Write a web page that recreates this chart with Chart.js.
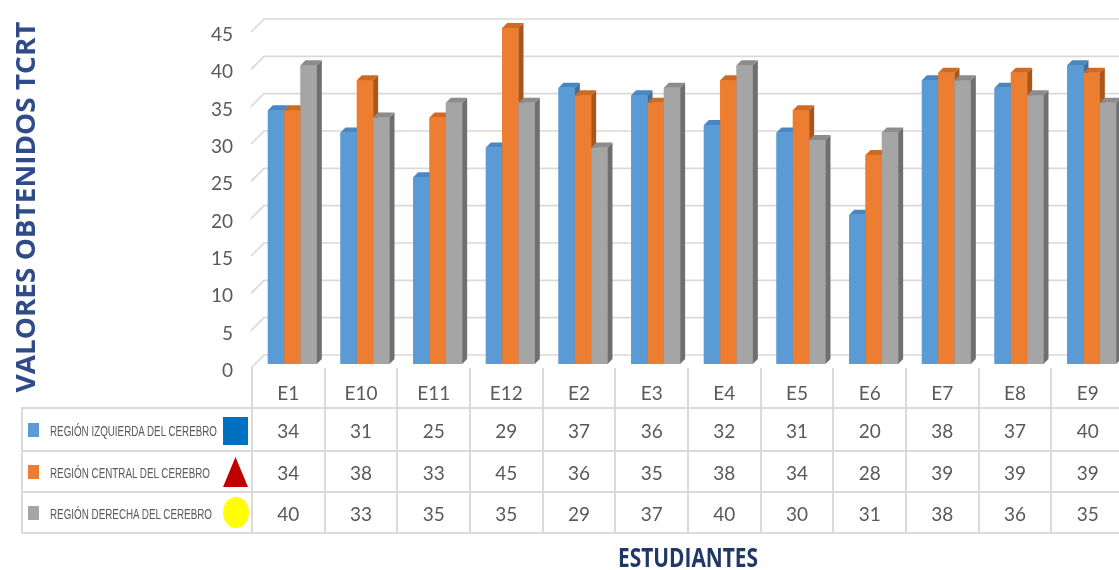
<!DOCTYPE html>
<html><head><meta charset="utf-8">
<script src="https://cdn.jsdelivr.net/npm/chart.js@4.4.0/dist/chart.umd.min.js"></script>
<style>
html,body{margin:0;padding:0;background:#fff;width:1119px;height:570px;overflow:hidden;position:relative;}
#wrap{position:absolute;left:0;top:0;width:1130px;height:570px;}
.hl{position:absolute;height:2px;background:#dadada;}
.vl{position:absolute;width:2px;background:#dadada;}
.num{position:absolute;font-family:Lato,"Open Sans",sans-serif;font-size:19px;color:#595959;text-align:center;height:24px;line-height:24px;}
.lab{position:absolute;font-family:"Liberation Sans",Arial,sans-serif;font-size:15px;color:#595959;white-space:nowrap;display:inline-block;line-height:18px;}
.key{position:absolute;width:11px;height:14px;}
.title{position:absolute;white-space:nowrap;display:inline-block;font-family:"Open Sans",sans-serif;font-weight:bold;}
</style></head>
<body>
<div id="wrap"><canvas id="c" width="1130" height="570" style="width:1130px;height:570px"></canvas></div>
<div id="table"></div>
<div id="ytitle" class="title" style="font-size:27px;color:#2f4b8a;line-height:30px">VALORES OBTENIDOS TCRT</div>
<div id="xtitle" class="title" style="font-size:26px;color:#1f3864;line-height:30px">ESTUDIANTES</div>
<script>
const categories = ['E1','E10','E11','E12','E2','E3','E4','E5','E6','E7','E8','E9'];
const izquierda = [34,31,25,29,37,36,32,31,20,38,37,40];
const central   = [34,38,33,45,36,35,38,34,28,39,39,39];
const derecha   = [40,33,35,35,29,37,40,30,31,38,36,35];
const seriesNames = ['REGIÓN IZQUIERDA DEL CEREBRO','REGIÓN CENTRAL DEL CEREBRO','REGIÓN DERECHA DEL CEREBRO'];
const yMin = 0, yMax = 45, yStep = 5;

const front = ['#5b9bd5','#ed7d31','#a5a5a5'];
const side  = ['#3f6f9e','#a9561d','#6f6f6f'];
const topC  = ['#4a86c2','#cf6a22','#8c8c8c'];
const DEPTH = 5;

const bar3d = {
  id:'bar3d',
  beforeDatasetsDraw(chart){
    const ctx = chart.ctx, ys = chart.scales.y, L = chart.chartArea.left;
    ctx.save();
    ctx.strokeStyle = '#d9d9d9'; ctx.lineWidth = 1.6;
    ys.ticks.forEach(t => {
      const yf = ys.getPixelForValue(t.value);
      const yb = yf - 9;
      ctx.beginPath();
      ctx.moveTo(L-5, yf+4); ctx.lineTo(L+8, yb); ctx.lineTo(chart.width, yb);
      ctx.stroke();
    });
    ctx.restore();
  },
  afterDatasetsDraw(chart){
    const ctx = chart.ctx;
    ctx.save();
    for (let i = 0; i < chart.data.datasets.length; i++){
      const meta = chart.getDatasetMeta(i);
      meta.data.forEach(el => {
        const p = el.getProps(['x','y','base','width'], true);
        const x0 = p.x - p.width/2, x1 = p.x + p.width/2, y = p.y, b = p.base;
        el.draw(ctx);
        ctx.fillStyle = side[i];
        ctx.beginPath();
        ctx.moveTo(x1, y); ctx.lineTo(x1+DEPTH, y-DEPTH); ctx.lineTo(x1+DEPTH, b-DEPTH); ctx.lineTo(x1, b);
        ctx.closePath(); ctx.fill();
        ctx.fillStyle = topC[i];
        ctx.beginPath();
        ctx.moveTo(x0, y); ctx.lineTo(x0+DEPTH, y-DEPTH); ctx.lineTo(x1+DEPTH, y-DEPTH); ctx.lineTo(x1, y);
        ctx.closePath(); ctx.fill();
      });
    }
    ctx.restore();
  }
};

const tickFont = {family:'Lato, "Open Sans", sans-serif', size:19};
const chart = new Chart(document.getElementById('c'), {
  type:'bar',
  data:{
    labels: categories,
    datasets:[
      {label:seriesNames[0], data:izquierda, backgroundColor:front[0]},
      {label:seriesNames[1], data:central, backgroundColor:front[1]},
      {label:seriesNames[2], data:derecha, backgroundColor:front[2]}
    ]
  },
  options:{
    responsive:false, animation:false,
    layout:{padding:{left:0,right:2,top:28,bottom:162}},
    datasets:{bar:{categoryPercentage:0.674, barPercentage:1.0, borderWidth:0}},
    plugins:{legend:{display:false}, tooltip:{enabled:false}},
    scales:{
      x:{
        grid:{display:false, drawTicks:false}, border:{display:false},
        ticks:{font:tickFont, color:'#595959', padding:18, labelOffset:-4, maxRotation:0, autoSkip:false},
        afterFit(s){ s.height = 44; s.paddingLeft = 0; s.paddingRight = 0; }
      },
      y:{
        min:yMin, max:yMax,
        grid:{display:false, drawTicks:false}, border:{display:false},
        ticks:{stepSize:yStep, font:tickFont, color:'#595959', padding:23, labelOffset:7},
        afterFit(s){ s.width = 256; s.paddingTop = 0; s.paddingBottom = 0; }
      }
    }
  },
  plugins:[bar3d]
});

// ---- data table under the chart ----
const tbl = document.getElementById('table');
function add(cls, style, text){
  const d = document.createElement('div');
  d.className = cls;
  Object.assign(d.style, style);
  if (text !== undefined) d.textContent = text;
  tbl.appendChild(d);
  return d;
}
const xs = chart.scales.x;
const colW = (xs.right - xs.left) / categories.length;
const colLeft = i => xs.left + i*colW - 4;
const rowLines = [408, 451, 492, 533];
const headerTop = 368, tableLeft = 22;

rowLines.forEach(y => add('hl', {left: tableLeft+'px', top:(y-1)+'px', width:(1119-tableLeft)+'px'}));
add('vl', {left:(tableLeft-1)+'px', top:(rowLines[0]-1)+'px', height:(rowLines[3]-rowLines[0]+2)+'px'});
for (let i = 0; i <= categories.length; i++){
  add('vl', {left:(colLeft(i)-1)+'px', top:headerTop+'px', height:(rowLines[3]-headerTop+1)+'px'});
}
const seriesData = [izquierda, central, derecha];
const labWidths = [167, 160, 162];
seriesData.forEach((arr, r) => {
  const cy = (rowLines[r] + rowLines[r+1]) / 2 + 1;
  arr.forEach((v, i) => {
    add('num', {left:colLeft(i)+'px', width:colW+'px', top:(cy-12)+'px'}, String(v));
  });
  add('key', {left:'28px', top:(cy-8)+'px', background:front[r]});
  const lab = add('lab', {left:'50px', top:(cy-9)+'px'}, seriesNames[r]);
  const w = lab.getBoundingClientRect().width;
  lab.style.transformOrigin = 'left center';
  lab.style.transform = 'scaleX(' + (labWidths[r]/w) + ')';
});
// series marker shapes
add('shape', {position:'absolute', left:'223px', top:'417px', width:'25px', height:'28px', background:'#0070c0'});
add('shape', {position:'absolute', left:'223px', top:'457px', width:'25px', height:'30px', background:'#c00000', clipPath:'polygon(50% 0, 100% 100%, 0 100%)'});
add('shape', {position:'absolute', left:'223px', top:'497px', width:'26px', height:'31px', background:'#ffff00', borderRadius:'50%'});

// titles
function placeTitle(el, cx, cy, len, rot){
  const w = el.getBoundingClientRect().width;
  el.style.left = cx + 'px'; el.style.top = cy + 'px';
  el.style.transform = 'translate(-50%,-50%) ' + (rot ? 'rotate(-90deg) ' : '') + 'scaleX(' + (len/w) + ')';
}
placeTitle(document.getElementById('ytitle'), 25, 207, 371, true);
placeTitle(document.getElementById('xtitle'), 688, 557, 140, false);
</script>
</body></html>
